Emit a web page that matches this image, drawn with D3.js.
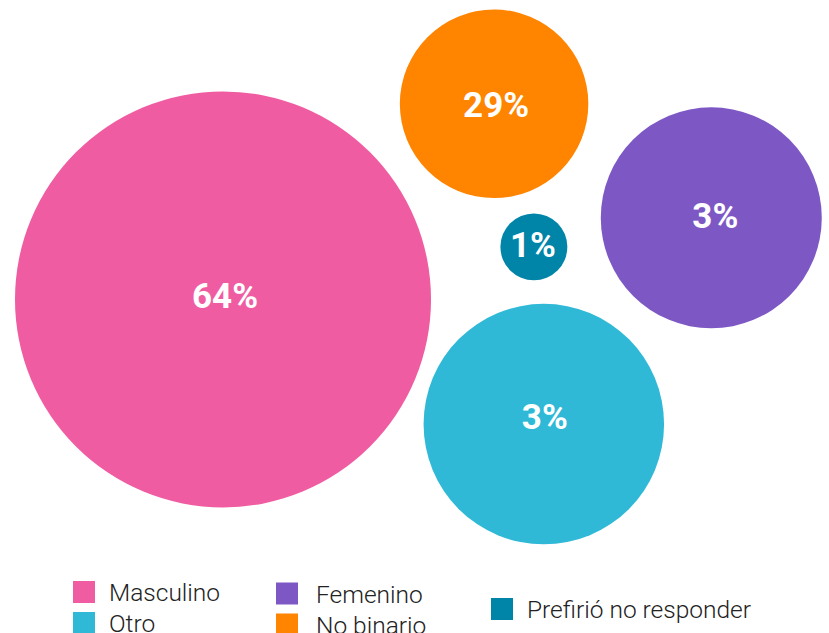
<!DOCTYPE html>
<html>
<head>
<meta charset="utf-8">
<script src="https://cdn.jsdelivr.net/npm/d3@7"></script>
<style>
  html, body { margin: 0; padding: 0; background: #fff; }
  svg { display: block; }
</style>
</head>
<body>
<script>
// categories and the percentage shown on each bubble
var categories = ["Masculino", "No binario", "Femenino", "Otro", "Prefirió no responder"];
var percents = [64, 29, 3, 3, 1];
// bubble size as drawn in the chart (relative units)
var bubbleSize = [64, 29, 34, 37, 10.3];
var colors = ["#ef5ca2", "#ff8400", "#7d58c5", "#2fb9d7", "#0085a9"];

// legend order (column by column)
var legendColumns = [
  ["Masculino", "Otro"],
  ["Femenino", "No binario"],
  ["Prefirió no responder"]
];

var width = 829, height = 633;

// bubble centres in chart units (0-100 across, 0-100 down the bubble area)
var layout = [
  {x: 26.9, y: 47.3, ldx: 2,  ldy: -4},
  {x: 59.6, y: 16.4, ldx: 2,  ldy: 1},
  {x: 85.8, y: 34.4, ldx: 4,  ldy: -2},
  {x: 65.6, y: 67.0, ldx: 1,  ldy: -7},
  {x: 64.4, y: 39.0, ldx: -1, ldy: -2}
];

var svg = d3.select("body").append("svg")
    .attr("width", width)
    .attr("height", height);

var x = d3.scaleLinear().domain([0, 100]).range([0, width]);
var y = d3.scaleLinear().domain([0, 100]).range([0, height]);
var r = d3.scaleLinear().domain([0, 64]).range([0, 208]);
var color = d3.scaleOrdinal().domain(categories).range(colors);

var data = categories.map(function(c, i) {
  return {name: c, pct: percents[i], size: bubbleSize[i], pos: layout[i]};
});

var node = svg.selectAll("g.bubble")
    .data(data)
  .enter().append("g")
    .attr("class", "bubble")
    .attr("transform", function(d) {
      return "translate(" + x(d.pos.x) + "," + y(d.pos.y) + ")";
    });

node.append("circle")
    .attr("r", function(d) { return r(d.size); })
    .attr("fill", function(d) { return color(d.name); });

node.append("text")
    .attr("x", function(d) { return d.pos.ldx; })
    .attr("y", function(d) { return d.pos.ldy; })
    .attr("dy", "0.35em")
    .attr("text-anchor", "middle")
    .style("font-family", "Roboto, sans-serif")
    .style("font-weight", 700)
    .style("font-size", "35px")
    .style("fill", "#fff")
    .text(function(d) { return d.pct + "%"; });

// legend
var colX = [73, 276, 491];
var rowY = [581, 612];
var legend = svg.append("g").attr("class", "legend");

legendColumns.forEach(function(col, ci) {
  col.forEach(function(name, ri) {
    var top = col.length === 1 ? 598 : rowY[ri] + (ci === 1 ? 1.5 : 0);
    var g = legend.append("g")
        .attr("transform", "translate(" + colX[ci] + "," + top + ")");
    g.append("rect")
        .attr("width", 22)
        .attr("height", 22)
        .attr("fill", color(name));
    g.append("text")
        .attr("x", ci === 1 ? 40 : 36)
        .attr("y", 20)
        .style("font-family", "Roboto, sans-serif")
        .style("font-weight", 300)
        .style("font-size", "24.5px")
        .style("fill", "#222")
        .text(name);
  });
});
</script>
</body>
</html>
